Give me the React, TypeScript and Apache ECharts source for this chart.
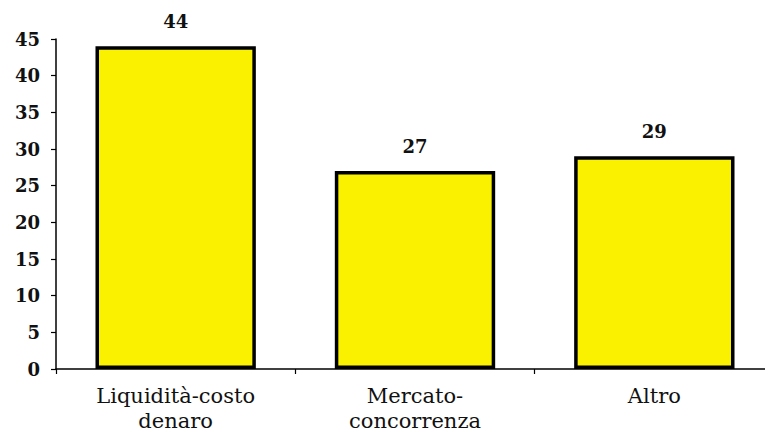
import React, { useEffect, useRef } from "react";
import * as echarts from "echarts";

const categories = ["Liquidità-costo\ndenaro", "Mercato-\nconcorrenza", "Altro"];
const values = [44, 27, 29];

const LABEL_FONT = "'DejaVu Serif', 'Liberation Serif', serif";
const NUM_FONT = "'DejaVu Serif', 'DejaVu Sans', sans-serif";

export default function App() {
  const ref = useRef<HTMLDivElement>(null);
  useEffect(() => {
    const chart = echarts.init(ref.current!, null, { renderer: "svg" });
    chart.setOption({
      animation: false,
      backgroundColor: "#ffffff",
      grid: { left: 56, width: 718, top: 39, bottom: 63, containLabel: false, outerBoundsMode: "none" },
      xAxis: {
        type: "category",
        data: categories,
        axisLine: { lineStyle: { color: "#000", width: 1.5 } },
        axisTick: { show: true, length: 5, lineStyle: { color: "#000", width: 1.2 } },
        axisLabel: {
          color: "#111",
          fontFamily: LABEL_FONT,
          fontSize: 21,
          lineHeight: 25,
          margin: 14,
        },
      },
      yAxis: {
        type: "value",
        min: 0,
        max: 45,
        interval: 5,
        splitLine: { show: false },
        axisLine: { show: true, lineStyle: { color: "#000", width: 1.5 } },
        axisTick: { show: true, length: 5, inside: false, lineStyle: { color: "#000", width: 1.2 } },
        axisLabel: {
          color: "#111",
          fontFamily: NUM_FONT,
          fontWeight: "bold",
          fontSize: 18,
          margin: 16,
        },
      },
      series: [
        {
          type: "bar",
          data: values,
          barCategoryGap: "33%",
          itemStyle: { color: "#F9F100", borderColor: "#000", borderWidth: 3.5 },
          label: {
            show: true,
            position: "top",
            distance: 16,
            color: "#111",
            fontFamily: NUM_FONT,
            fontWeight: "bold",
            fontSize: 18,
          },
        },
      ],
    });
    return () => chart.dispose();
  }, []);
  return <div ref={ref} style={{ width: 765, height: 432, position: "absolute", left: 0, top: 0, overflow: "hidden" }} />;
}
